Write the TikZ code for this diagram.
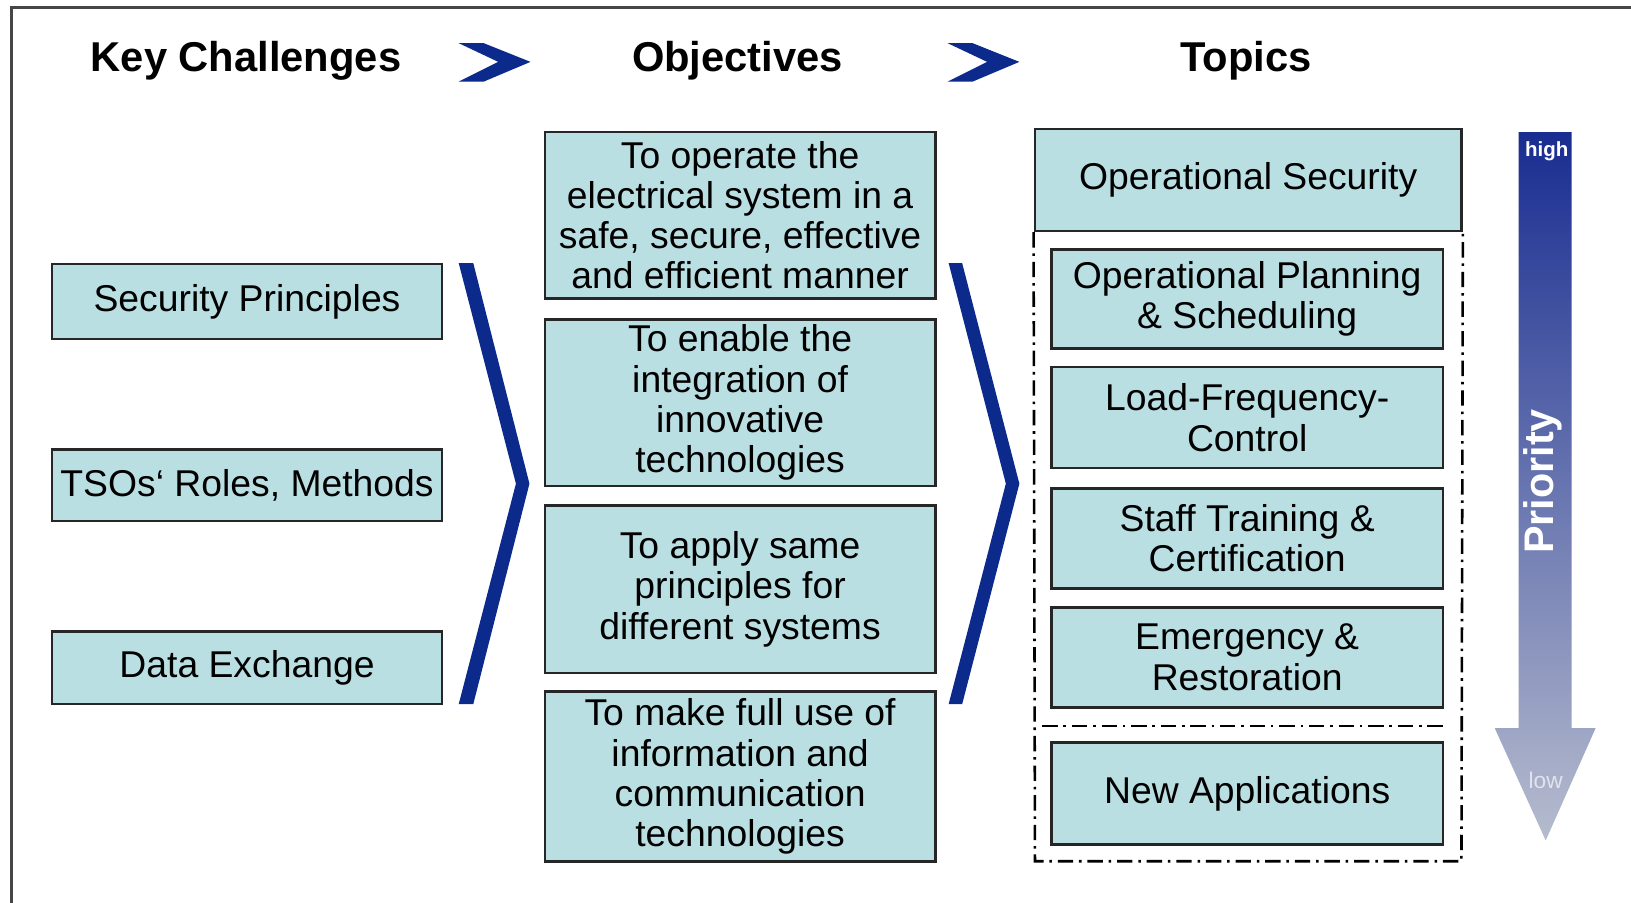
\documentclass[tikz,border=0pt]{standalone}
\usepackage{fontspec}
\setmainfont{Liberation Sans}
\definecolor{boxfill}{RGB}{185,223,227}
\definecolor{chevblue}{RGB}{12,42,140}
\definecolor{framegray}{RGB}{70,70,70}
\definecolor{arrowtop}{RGB}{25,45,145}
\definecolor{arrowbot}{RGB}{182,188,206}
\definecolor{lowtxt}{RGB}{225,228,238}
\newcommand\mybodyfont{\fontsize{10.2}{11.0}\selectfont}
\newcommand\mytitlefont{\fontsize{11.4}{13}\selectfont\bfseries}
\tikzset{
  box/.style={draw=black!85, line width=0.7pt, fill=boxfill, rectangle,
    inner sep=0pt, align=center, font=\mybodyfont},
  sz/.style 2 args={minimum width=#1, minimum height=#2},
  coltitle/.style={font=\mytitlefont, anchor=base, inner sep=0pt},
  chev/.style={fill=chevblue, draw=none},
  dashdot/.style={line width=0.7pt, dash pattern=on 4.2pt off 1.6pt on 0.7pt off 1.6pt},
}
\begin{document}
\begin{tikzpicture}[x=0.01cm, y=-0.01cm]
\useasboundingbox (0,0) rectangle (1568,868);
\fill[white] (0,0) rectangle (1568,868);
% frame
\draw[framegray, line width=0.7pt] (11,880) -- (11,7) -- (1580,7);

% column titles
\node[coltitle] (tkc) at (236.5,69) {Key Challenges};
\node[coltitle] (tob) at (709,69) {Objectives};
\node[coltitle] (ttp) at (1198,69) {Topics};

% header chevrons
\fill[chev] (441,41.5) -- (465,41.5) -- (510,59.5) -- (465,78.5) -- (441,78.5) -- (479,59.5) -- cycle;
\fill[chev] (911,41.5) -- (935,41.5) -- (980,59.5) -- (935,78.5) -- (911,78.5) -- (949,59.5) -- cycle;

% key challenges
\node[box, sz={3.75cm}{0.72cm}] (sp) at (237.5,290) {Security Principles};
\node[box, sz={3.75cm}{0.69cm}] (tso) at (237.5,466.5) {TSOs‘ Roles, Methods};
\node[box, sz={3.75cm}{0.70cm}] (de) at (237.5,642) {Data Exchange};

% big chevrons
\fill[chev] (441,253) -- (455,253) -- (509,465) -- (455,677) -- (441,677) -- (496,465) -- cycle;
\fill[chev] (912,253) -- (925,253) -- (980,465) -- (925,677) -- (912,677) -- (967,465) -- cycle;

% objectives
\node[box, sz={3.75cm}{1.60cm}] (o1) at (711.5,207) {To operate the\\electrical system in a\\safe, secure, effective\\and efficient manner};
\node[box, sz={3.75cm}{1.60cm}] (o2) at (711.5,387) {To enable the\\integration of\\innovative\\technologies};
\node[box, sz={3.75cm}{1.61cm}] (o3) at (711.5,566.5) {To apply same\\principles for\\different systems};
\node[box, sz={3.75cm}{1.63cm}] (o4) at (711.5,746.5) {To make full use of\\information and\\communication\\technologies};

% topics
\node[box, sz={4.10cm}{0.98cm}] (os) at (1200,173) {Operational Security};
\draw[dashdot] (os.south west) -- (995,828) -- (1405,828) -- (os.south east);
\node[box, sz={3.76cm}{0.95cm}] (ops) at (1199,287.5) {Operational Planning\\\& Scheduling};
\node[box, sz={3.76cm}{0.97cm}] (lfc) at (1199,401.5) {Load-Frequency-\\Control};
\node[box, sz={3.76cm}{0.965cm}] (stc) at (1199,517.75) {Staff Training \&\\Certification};
\node[box, sz={3.76cm}{0.96cm}] (er) at (1199,632) {Emergency \&\\Restoration};
\coordinate (sepl) at (1002,698);
\coordinate (sepr) at (1387,698);
\draw[dashdot] (sepl) -- (sepr);
\node[box, sz={3.76cm}{0.98cm}] (na) at (1199,763) {New Applications};

% priority arrow
\shade[top color=arrowtop, bottom color=arrowbot]
  (1460,127) -- (1511,127) -- (1511,700) -- (1534,700) -- (1486,808) -- (1437,700) -- (1460,700) -- cycle;
\node[font=\fontsize{5.6}{6}\selectfont\bfseries, text=white, inner sep=0pt] (hi) at (1487,145) {high};
\node[font=\fontsize{6.2}{7}\selectfont, text=lowtxt, inner sep=0pt] (lo) at (1486,750) {low};
\node[font=\fontsize{11.3}{13}\selectfont\bfseries, text=white, rotate=90, inner sep=0pt] (prio) at (1483,463) {Priority};
\end{tikzpicture}
\end{document}
